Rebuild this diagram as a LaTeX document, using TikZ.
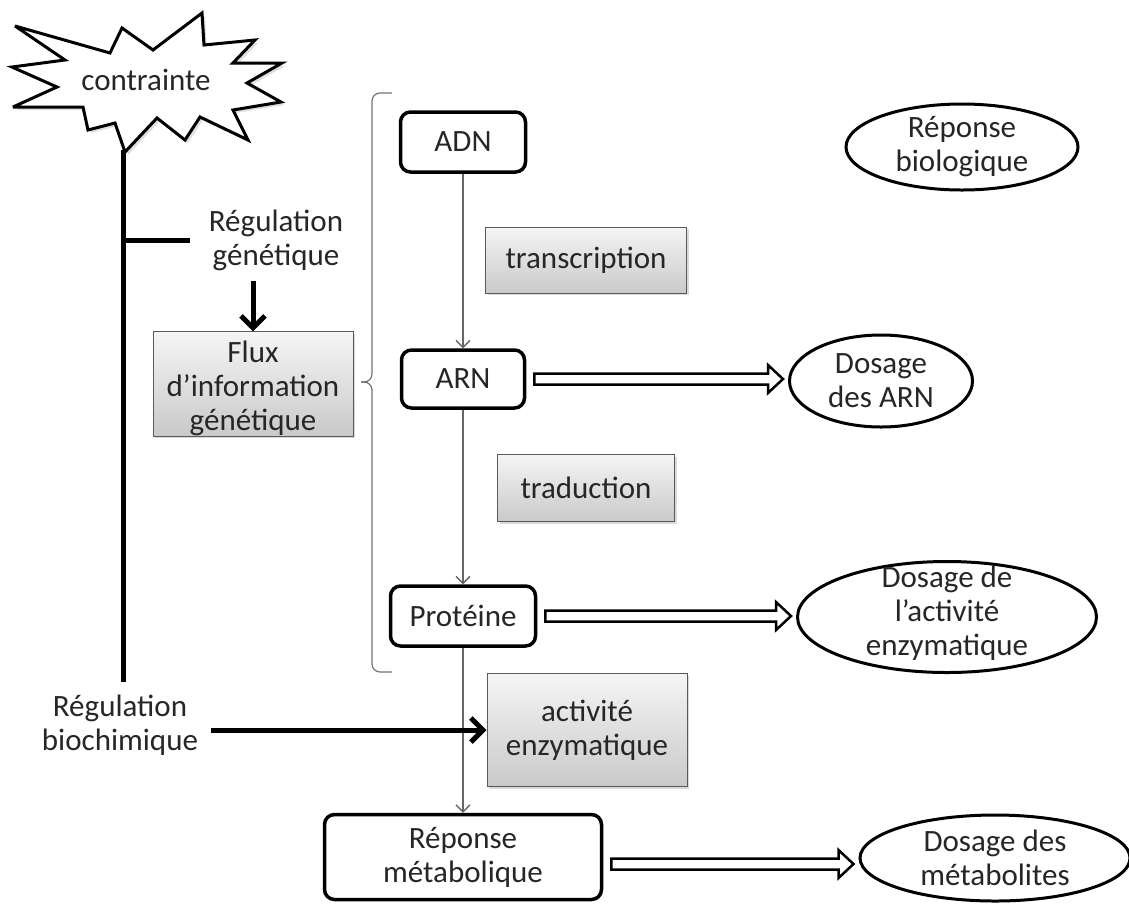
\documentclass[tikz,border=0pt]{standalone}
\usepackage{fontspec}
\setmainfont{Carlito}
\usetikzlibrary{shapes.geometric,arrows.meta,shadows,calc}

% fleche double creuse vers un dosage
\newcommand{\flechedosage}[3][0]{%
  \draw[dosagefleche] let \p1=($(#2.east)+(0,#1)$), \p2=(#3.west) in
    (\x1+8pt,\y1+5.5pt) -- (\x2-20pt,\y1+5.5pt) -- (\x2-20pt,\y1+14pt) -- (\x2-5pt,\y1)
    -- (\x2-20pt,\y1-14pt) -- (\x2-20pt,\y1-5.5pt) -- (\x1+8pt,\y1-5.5pt) -- cycle;}

\begin{document}
\begin{tikzpicture}[x=1pt,y=-1pt,
  every node/.style={font=\fontsize{31}{34}\selectfont, text=black!85, align=center, inner sep=2pt},
  etape/.style={draw=black, line width=3.5pt, rounded corners=10pt, fill=white, inner sep=0pt},
  processus/.style={draw=black!65, line width=1pt, top color=gray!8, bottom color=gray!42, inner sep=0pt,
    drop shadow={shadow xshift=2pt, shadow yshift=-2pt, opacity=0.3}},
  dosage/.style={draw=black, ellipse, line width=3pt, inner sep=0pt},
  fil/.style={draw=black!60, line width=1.3pt, -{Straight Barb[length=7pt,width=14pt]}},
  regul/.style={draw=black, line width=5pt},
  regulfleche/.style={regul, -{Straight Barb[length=12pt,width=24pt]}},
  dosagefleche/.style={draw=black, line width=2.5pt, fill=white, line join=miter},
  accolade/.style={draw=black!55, line width=1.2pt, rounded corners=8pt}]
\useasboundingbox (0,0) rectangle (1129,903);

% contrainte
\filldraw[fill=white, draw=black, line width=3pt, miter limit=4,
  drop shadow={shadow xshift=3pt, shadow yshift=-3pt, opacity=0.25}]
  (15,26) -- (110,53) -- (122,28) -- (153,50) -- (202,13) -- (204,45) -- (255,40) -- (233,63)
  -- (282,63) -- (247,83) -- (281,102) -- (233,110) -- (248,140) -- (200,117) -- (185,140)
  -- (157,118) -- (125,152) -- (115,123) -- (88,130) -- (83,107) -- (13,107) -- (57,87)
  -- (12,67) -- (65,60) -- cycle;
\node (contrainte) at (146,80) {contrainte};

\coordinate (burst) at (123,150);
\coordinate (trunkend) at (123,682);
\coordinate (branch) at (123,240);
\coordinate (branchend) at (190,240);
\draw[regul] (burst) -- (trunkend);
\draw[regul] (branch) -- (branchend);

% regulations
\node (reggen) at (276,240) {Régulation\\génétique};
\node[processus, minimum width=200, minimum height=102] (flux) at (253,384) {\rule{0pt}{31pt}Flux\\d’information\\génétique};
\draw[regulfleche] ($(flux.north |- reggen.south)+(0,8)$) -- (flux.north);

\node (regbio) at (120,725) {Régulation\\biochimique};

% accolade
\draw[accolade] (392,93) -- (372,93) -- (372,382) -- (361,382);
\draw[accolade] (361,382) -- (372,382) -- (372,672) -- (392,672);

% flux d'information
\node[etape, minimum width=125, minimum height=60] (adn) at (463,142) {ADN};
\node[etape, minimum width=123, minimum height=58] (arn) at (463,379) {ARN};
\node[etape, minimum width=145, minimum height=60] (prot) at (463,616) {Protéine};
\node[etape, minimum width=277, minimum height=85] (repmet) at (463,857) {Réponse\\métabolique};

\node[processus, minimum width=201, minimum height=66] (transc) at (586,260) {transcription};
\node[processus, minimum width=177, minimum height=67] (trad) at (586,488) {traduction};
\node[processus, minimum width=200, minimum height=113] (enz) at (587,730) {activité\\enzymatique};

\draw[fil] (adn) -- (arn);
\draw[fil] (arn) -- (prot);
\draw[fil] (prot) -- (repmet);
\draw[regulfleche] ($(regbio.east |- enz.west)+(11,0)$) -- (enz.west);

% dosages
\node[dosage, minimum width=232, minimum height=86] (repbio) at (962,147) {};
\node (repbioTxt) at (repbio) {Réponse\\biologique};
\node[dosage, minimum width=183, minimum height=92] (dosArn) at (881,381) {};
\node (dosArnTxt) at (dosArn) {Dosage\\des ARN};
\node[dosage, minimum width=299, minimum height=111] (dosEnz) at (947,617) {};
\node (dosEnzTxt) at ($(dosEnz)+(0,-4)$) {Dosage de\\l’activité\\enzymatique};
\node[dosage, minimum width=270, minimum height=86] (dosMet) at (995,858) {};
\node (dosMetTxt) at (dosMet) {Dosage des\\métabolites};

\flechedosage{arn}{dosArn}
\flechedosage{prot}{dosEnz}
\flechedosage[7]{repmet}{dosMet}
\end{tikzpicture}
\end{document}
